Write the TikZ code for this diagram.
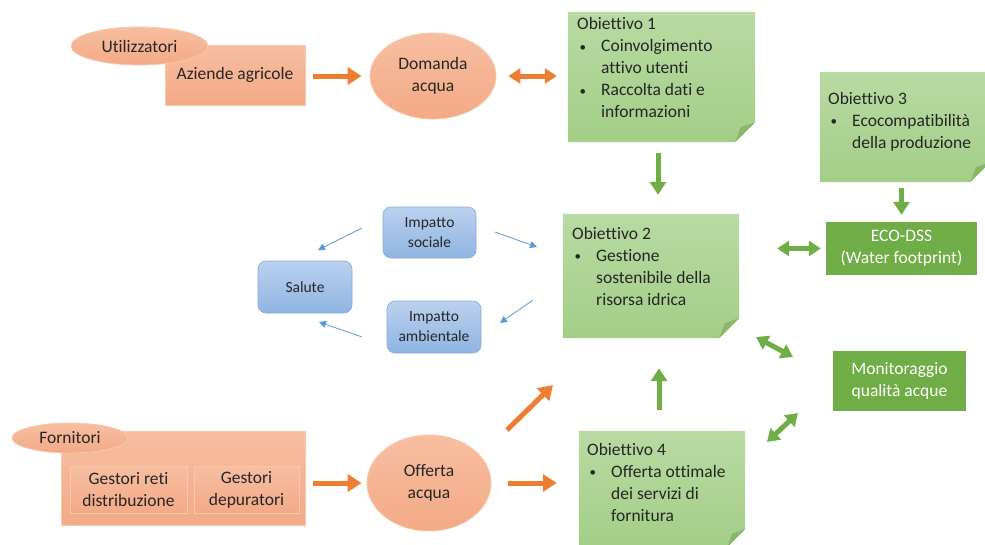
\documentclass[tikz,border=0pt]{standalone}
\usepackage{fontspec}
\setmainfont{Carlito}[Ligatures=NoCommon]
\usetikzlibrary{arrows.meta,shapes.geometric,calc}
\definecolor{txt}{HTML}{262626}
\definecolor{orA}{HTML}{ED7D31}
\definecolor{or1}{HTML}{F7BEA1}
\definecolor{or2}{HTML}{F3AA86}
\definecolor{orb}{HTML}{F8C7AC}
\definecolor{ng1}{HTML}{B8DAA3}
\definecolor{ng2}{HTML}{A3CE87}
\definecolor{ngd}{HTML}{86B866}
\definecolor{grA}{HTML}{70AD47}
\definecolor{gbx}{HTML}{70AD47}
\definecolor{bl1}{HTML}{BBD1EF}
\definecolor{bl2}{HTML}{8FB4E2}
\definecolor{blb}{HTML}{86AADA}
\definecolor{blA}{HTML}{5B9BD5}
\newcommand\bulitem{\makebox[24pt][l]{\hspace{2.5pt}\raisebox{0.5pt}{\fontsize{13}{13}\selectfont\textbullet}}}
\newcommand\bulcont{\hspace*{24pt}}
\newcommand\notefold[2]{%
  \shade[top color=ng1,bottom color=ng2] (#1.north west) -- (#1.north east) -- ([yshift=#2]#1.south east) -- ([xshift=-#2]#1.south east) -- (#1.south west) -- cycle;
  \fill[ngd] ([yshift=#2]#1.south east) -- ([xshift=-#2]#1.south east) -- ([xshift=-0.72*#2,yshift=0.75*#2]#1.south east) -- cycle;
}
\begin{document}
\begin{tikzpicture}[x=1pt,y=-1pt,
  base/.style={font=\fontsize{17.5}{22}\selectfont, text=txt, inner sep=0pt, align=center},
  obox/.style={base, rectangle, top color=or1, bottom color=or2, draw=orb, line width=0.6pt},
  oell/.style={base, ellipse, top color=or1, bottom color=or2, draw=orb, line width=0.8pt},
  notebox/.style={rectangle, inner sep=0pt},
  notetxt/.style={base, align=left, anchor=north west},
  gbox/.style={base, rectangle, fill=gbx, text=white},
  bbox/.style={base, font=\fontsize{15.5}{20}\selectfont, rectangle, rounded corners=8pt, top color=bl1, bottom color=bl2, draw=blb, line width=0.6pt},
  oarr/.style={draw=orA, line width=5pt, -{Triangle[width=17pt,length=14pt]}},
  garr/.style={draw=grA, line width=5pt, -{Triangle[width=16pt,length=13pt]}},
  gdbl/.style={draw=grA, line width=5pt, {Triangle[width=15pt,length=12pt]}-{Triangle[width=15pt,length=12pt]}},
  odbl/.style={draw=orA, line width=5pt, {Triangle[width=15pt,length=12pt]}-{Triangle[width=15pt,length=12pt]}},
  barr/.style={draw=blA, line width=0.8pt, -{Triangle[width=7pt,length=7pt]}}
]
\useasboundingbox (0,0) rectangle (985,544);
\clip (0,0) rectangle (985,544);

% orange top group
\node[obox, minimum width=140pt, minimum height=60pt] (az) at (235,75) {Aziende agricole};
\node[oell, minimum width=137pt, minimum height=38pt] (util) at (139.5,46) {Utilizzatori};
\node[oell, minimum width=126pt, minimum height=86pt] (dom) at (433,76) {Domanda\\acqua};

% orange bottom group
\node[obox, minimum width=244pt, minimum height=94pt] (forn) at (183,478) {};
\node[obox, minimum width=117pt, minimum height=47pt] (g1) at (128.5,489.5) {Gestori reti\\distribuzione};
\node[obox, minimum width=105pt, minimum height=47pt] (g2) at (246.5,489.5) {Gestori\\depuratori};
\node[oell, minimum width=116pt, minimum height=30pt] (fornl) at (70,438) {Fornitori};
\node[oell, minimum width=124pt, minimum height=96pt] (off) at (429,483) {Offerta\\acqua};

% notes
\node[notebox, minimum width=187pt, minimum height=130pt] (o1) at (661.5,77) {};
\notefold{o1}{20pt}
\node[notetxt] (o1t) at (577,17.5) {Obiettivo 1\\ \bulitem Coinvolgimento\\ \bulcont attivo utenti\\ \bulitem Raccolta dati e\\ \bulcont informazioni};

\node[notebox, minimum width=176pt, minimum height=124pt] (o2) at (651,276) {};
\notefold{o2}{20pt}
\node[notetxt] (o2t) at (572,227) {Obiettivo 2\\ \bulitem Gestione\\ \bulcont sostenibile della\\ \bulcont risorsa idrica};

\node[notebox, minimum width=170pt, minimum height=110pt] (o3) at (905,127) {};
\notefold{o3}{20pt}
\node[notetxt] (o3t) at (828,92) {Obiettivo 3\\ \bulitem Ecocompatibilit\`a\\ \bulcont della produzione};

\node[notebox, minimum width=166pt, minimum height=116pt] (o4) at (662,489) {};
\notefold{o4}{18pt}
\node[notetxt] (o4t) at (587,443) {Obiettivo 4\\ \bulitem Offerta ottimale\\ \bulcont dei servizi di\\ \bulcont fornitura};

% green boxes
\node[gbox, minimum width=151pt, minimum height=53pt] (eco) at (901.5,248.5) {ECO-DSS\\(Water footprint)};
\node[gbox, minimum width=133pt, minimum height=60pt] (mon) at (899.5,381) {Monitoraggio\\qualit\`a acque};

% blue boxes
\node[bbox, minimum width=93pt, minimum height=51pt] (is) at (429.5,232.5) {Impatto\\sociale};
\node[bbox, minimum width=94pt, minimum height=52pt] (sal) at (305,287) {Salute};
\node[bbox, minimum width=94pt, minimum height=52pt] (ia) at (434,327) {Impatto\\ambientale};

% orange arrows
\draw[oarr, shorten <=8pt, shorten >=8pt] (az.east |- dom.west) -- (dom.west);
\draw[odbl, shorten <=12pt, shorten >=11pt] (dom.east) -- (o1.west |- dom.east);
\draw[oarr, shorten <=8pt, shorten >=5pt] (forn.east |- off.west) -- (off.west);
\draw[oarr, shorten <=17pt, shorten >=22pt] (off.east) -- (o4.west |- off.east);
\coordinate (d3s) at (507,430);
\coordinate (d3e) at (553,385);
\draw[oarr] (d3s) -- (d3e);

% green arrows
\draw[garr, shorten <=11pt, shorten >=19pt] ([xshift=-3.5pt]o1.south) coordinate (a1) -- (a1 |- o2.north);
\draw[garr, shorten <=6pt, shorten >=7pt] (eco.north |- o3.south) -- (eco.north);
\draw[gdbl, shorten <=38pt, shorten >=5pt] (o2.east |- eco.west) -- (eco.west);
\draw[garr, shorten <=21pt, shorten >=30pt] ([xshift=-3pt]o4.north) coordinate (a4) -- (a4 |- o2.south);
\coordinate (d1s) at (756,337);
\coordinate (d1e) at (793,357);
\draw[gdbl] (d1s) -- (d1e);
\coordinate (d2s) at (767,442);
\coordinate (d2e) at (798,413);
\draw[gdbl] (d2s) -- (d2e);

% blue arrows
\coordinate (b1s) at (362,228); \coordinate (b1e) at (318,250);
\coordinate (b2s) at (495,232); \coordinate (b2e) at (537,247);
\coordinate (b3s) at (533,300); \coordinate (b3e) at (500,323);
\coordinate (b4s) at (362,337); \coordinate (b4e) at (319,322);
\draw[barr] (b1s) -- (b1e);
\draw[barr] (b2s) -- (b2e);
\draw[barr] (b3s) -- (b3e);
\draw[barr] (b4s) -- (b4e);
\end{tikzpicture}
\end{document}
